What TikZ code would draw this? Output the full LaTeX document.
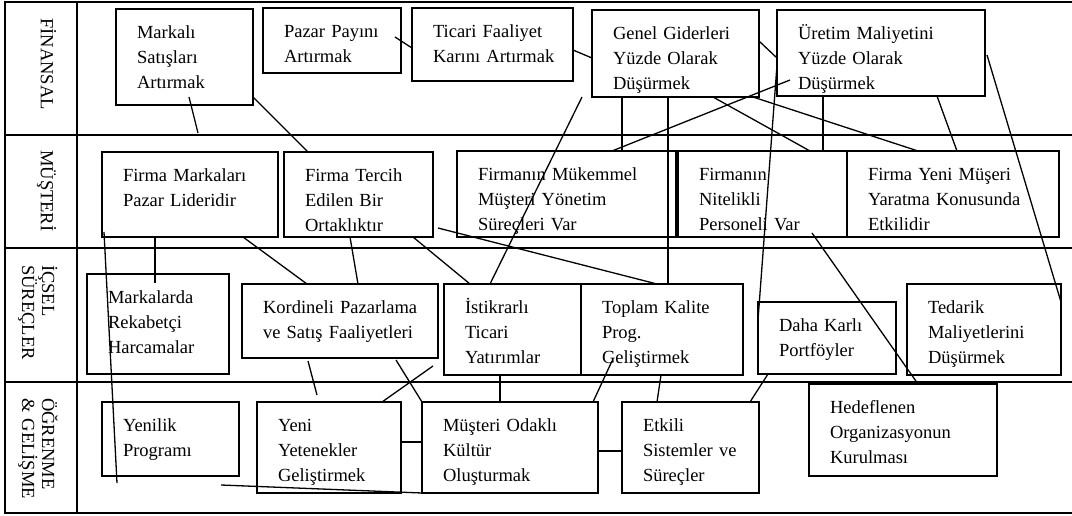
\documentclass[tikz,border=0pt]{standalone}
\usepackage{fontspec}
\setmainfont{Liberation Serif}
\usepackage{tikz}

\begin{document}
\begin{tikzpicture}[
    x=1pt, y=-1pt,
    kutu/.style={rectangle, draw=black, line width=1.8pt, anchor=north west, align=left, inner xsep=21pt, inner ysep=0pt, outer sep=0pt, text height=29pt, font=\fontsize{18.5}{25}\selectfont},
    baslik/.style={rotate=-90, anchor=base west, align=left, text width=140pt, inner sep=0pt, font=\fontsize{18.5}{20}\selectfont},
    cerceve/.style={line width=2.2pt},
    baglanti/.style={line width=1.3pt}
]
\useasboundingbox (0,0) rectangle (1072,515);

% tablo
\draw[cerceve] (1072,2) -- (5,2) -- (5,513) -- (1072,513);
\draw[cerceve] (77,2) -- (77,513);
\draw[cerceve] (5,135) -- (1072,135);
\draw[cerceve] (5,248) -- (1072,248);
\draw[cerceve] (5,382) -- (1072,382);

\node[baslik] (finansal) at (41,18) {FİNANSAL};
\node[baslik] (musteri) at (41,150) {MÜŞTERİ};
\node[baslik] (icsel) at (42,265) {İÇSEL\\SÜREÇLER};
\node[baslik] (ogrenme) at (42,398) {ÖĞRENME\\\& GELİŞME};

% finansal
\node[kutu, text width=95pt, text depth=67pt] (markali) at (116,9) {Markalı\\Satışları\\Artırmak};
\node[kutu, text width=96pt, text depth=36pt] (pazar) at (263,8) {\mbox{Pazar Payını}\\Artırmak};
\node[kutu, text width=119pt, text depth=44pt] (ticari) at (412,8) {Ticari Faaliyet\\\mbox{Karını Artırmak}};
\node[kutu, text width=125pt, text depth=58pt] (genel) at (592,10) {Genel Giderleri\\Yüzde Olarak\\Düşürmek};
\node[kutu, text width=166pt, text depth=57pt] (uretim) at (777,10) {Üretim Maliyetini\\Yüzde Olarak\\Düşürmek};

% musteri
\node[kutu, text width=134pt, text depth=56pt] (lider) at (102,152) {Firma Markaları\\Pazar Lideridir};
\node[kutu, text width=107pt, text depth=56pt] (tercih) at (284,152) {Firma Tercih\\Edilen Bir\\Ortaklıktır};
\node[kutu, text width=177pt, text depth=57pt] (mukemmel) at (457,151) {Firmanın Mükemmel\\Müşteri Yönetim\\Süreçleri Var};
\node[kutu, text width=127pt, text depth=57pt] (nitelikli) at (678,151) {Firmanın\\Nitelikli\\Personeli Var};
\node[kutu, text width=170pt, text depth=57pt] (yeni) at (847,151) {Firma Yeni Müşeri\\Yaratma Konusunda\\Etkilidir};

% icsel surecler
\node[kutu, text width=100pt, text depth=71pt] (rekabet) at (87,274) {Markalarda\\Rekabetçi\\Harcamalar};
\node[kutu, text width=154pt, text depth=45pt] (kordineli) at (242,284) {\mbox{Kordineli Pazarlama}\\ve Satış Faaliyetleri};
\node[kutu, text width=95pt, text depth=62pt] (istikrar) at (444,284) {İstikrarlı\\Ticari\\Yatırımlar};
\node[kutu, text width=120pt, text depth=62pt] (kalite) at (581,284) {Toplam Kalite\\Prog.\\Geliştirmek};
\node[kutu, text width=96pt, text depth=43pt] (portfoy) at (758,302) {Daha Karlı\\Portföyler};
\node[kutu, text width=112pt, text depth=62pt] (tedarik) at (907,284) {Tedarik\\Maliyetlerini\\Düşürmek};

% ogrenme ve gelisme
\node[kutu, text width=95pt, text depth=45pt] (yenilik) at (102,402) {Yenilik\\Programı};
\node[kutu, text width=102pt, text depth=62pt] (yetenek) at (257,402) {Yeni\\Yetenekler\\Geliştirmek};
\node[kutu, text width=134pt, text depth=62pt] (kultur) at (422,402) {Müşteri Odaklı\\Kültür\\Oluşturmak};
\node[kutu, text width=95pt, text depth=62pt] (etkili) at (622,402) {Etkili\\\mbox{Sistemler ve}\\Süreçler};
\node[kutu, text width=146pt, text depth=63pt] (hedef) at (809,384) {Hedeflenen\\Organizasyonun\\Kurulması};

% baglantilar
\draw[baglanti] ([xshift=73pt,yshift=8pt]markali.south west) -- ([xshift=82pt,yshift=-28pt]markali.south west);
\draw[baglanti] ([yshift=8pt]markali.south east) -- ([xshift=24pt]tercih.north west);
\draw[baglanti] ([xshift=-6pt,yshift=-29pt]pazar.north east) -- ([yshift=-40pt]ticari.north west);
\draw[baglanti] ([yshift=-42pt]ticari.north east) -- ([yshift=-48pt]genel.north west);
\draw[baglanti] ([yshift=-31pt]genel.north east) -- ([yshift=-48pt]uretim.north west);
\draw[baglanti] ([xshift=-10pt]genel.south west) -- ([xshift=46pt]istikrar.north west);
\draw[baglanti] ([xshift=30pt]genel.south west) -- ([xshift=165pt]mukemmel.north west);
\draw[baglanti] ([xshift=76pt]genel.south west) -- ([xshift=87pt]kalite.north west);
\draw[baglanti] ([xshift=13pt,yshift=-70pt]uretim.north west) -- ([xshift=155pt]mukemmel.north west);
\draw[baglanti] ([xshift=121pt]genel.south west) -- ([xshift=132pt]nitelikli.north west);
\draw[baglanti] ([xshift=161pt]genel.south west) -- ([xshift=71pt]yeni.north west);
\draw[baglanti] ([xshift=46pt]uretim.south west) -- ([xshift=145pt]nitelikli.north west);
\draw[baglanti] ([xshift=160pt]uretim.south west) -- ([xshift=110pt]yeni.north west);
\draw[baglanti] ([yshift=-55pt]uretim.north west) -- ([yshift=-18pt]portfoy.north west);
\draw[baglanti] ([xshift=2pt,yshift=-45pt]uretim.north east) -- ([yshift=-18pt]tedarik.north east);
\draw[baglanti] ([xshift=53pt]lider.south west) -- ([xshift=68pt,yshift=-9pt]rekabet.north west);
\draw[baglanti] ([xshift=2pt,yshift=5pt]lider.south west) -- ([xshift=15pt,yshift=-7pt]yenilik.south west);
\draw[baglanti] ([xshift=141pt]lider.south west) -- ([xshift=65pt]kordineli.north west);
\draw[baglanti] ([xshift=66pt]tercih.south west) -- ([xshift=116pt]kordineli.north west);
\draw[baglanti] ([xshift=129pt]tercih.south west) -- ([xshift=26pt]istikrar.north west);
\draw[baglanti] ([xshift=5pt,yshift=9pt]tercih.south east) -- ([xshift=76pt]kalite.north west);
\draw[baglanti] ([xshift=134pt,yshift=4pt]nitelikli.south west) -- ([xshift=109pt]hedef.north west);
\draw[baglanti] ([xshift=66pt,yshift=-3pt]kordineli.south west) -- ([xshift=60pt,yshift=7pt]yetenek.north west);
\draw[baglanti] ([xshift=-18pt,yshift=-9pt]yenilik.south east) -- (kultur.south west);
\draw[baglanti] ([xshift=-42pt,yshift=-2pt]kordineli.south east) -- (kultur.north west);
\draw[baglanti] ([xshift=-5pt,yshift=-8pt]kordineli.south east) -- ([xshift=-19pt]yetenek.north east);
\draw[baglanti] ([xshift=56pt]istikrar.south west) -- ([xshift=78pt]kultur.north west);
\draw[baglanti] ([xshift=31pt,yshift=14pt]kalite.south west) -- ([xshift=-5pt]kultur.north east);
\draw[baglanti] ([xshift=80pt]kalite.south west) -- ([xshift=35pt]etkili.north west);
\draw[baglanti] ([yshift=-40pt]yetenek.north east) -- ([yshift=-40pt]kultur.north west);
\draw[baglanti] ([yshift=-49pt]kultur.north east) -- ([yshift=-49pt]etkili.north west);
\draw[baglanti] ([xshift=10pt]portfoy.south west) -- ([xshift=-9pt]etkili.north east);

\end{tikzpicture}
\end{document}
